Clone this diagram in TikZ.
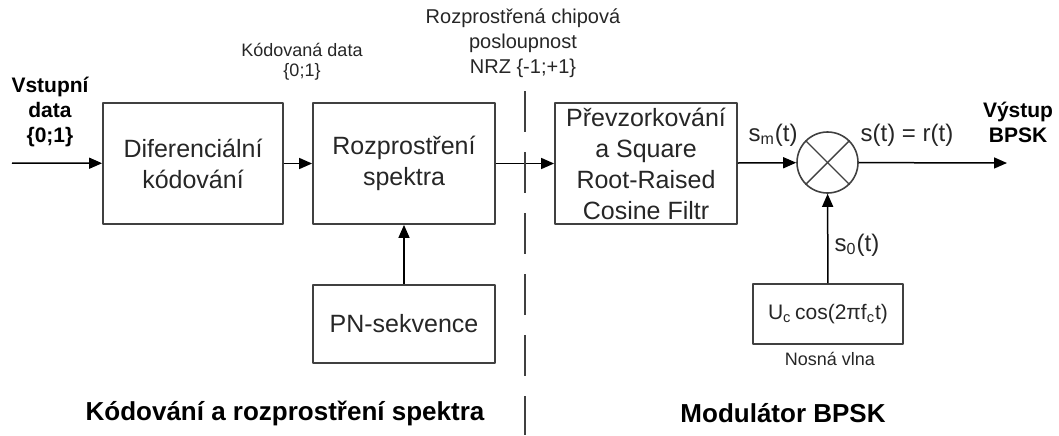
\documentclass[tikz,border=0pt]{standalone}
\usepackage{fontspec}
\setmainfont{Liberation Sans}
\usetikzlibrary{arrows.meta,positioning}

\begin{document}
\begin{tikzpicture}[x=0.5pt, y=-0.5pt, line join=round,
  blok/.style={draw=black!75, line width=0.9pt, align=center, inner sep=0pt,
    text=black!85, font=\fontsize{12.5}{15.5}\selectfont},
  sipka/.style={-{Triangle[length=6.5pt,width=5.5pt]}, line width=0.75pt},
  popis/.style={align=center, inner sep=0pt, text=black!85, font=\fontsize{9}{10}\selectfont},
  signal/.style={inner sep=0pt, text=black!85, font=\fontsize{12}{14}\selectfont},
  tucny/.style={align=center, inner sep=0pt, font=\bfseries\fontsize{10.5}{12.5}\selectfont}]

  \useasboundingbox (0,0) rectangle (1059,435);

  % Blocks
  \node[blok, minimum width=90pt, minimum height=60.5pt] (dif) at (193,163.5) {Diferenciální\\kódování};
  \node[blok, minimum width=91pt, minimum height=60.5pt] (roz) at (404,163.5) {Rozprostření\\spektra};
  \node[blok, minimum width=91pt, minimum height=39pt] (pn) at (404,324) {PN-sekvence};
  \node[blok, minimum width=91pt, minimum height=60.5pt] (flt) at (646,163.5) {Převzorkování\\a Square\\Root-Raised\\Cosine Filtr};
  \node[draw=black!75, circle, line width=0.8pt, minimum size=30.5pt, inner sep=0pt] (mix) at (827.5,162.5) {};
  \node[blok, minimum width=75pt, minimum height=30pt, font=\fontsize{10.5}{12}\selectfont] (nos) at (828,314)
    {U\textsubscript{c}\,cos(2πf\textsubscript{c}t)};

  % Mixer cross
  \draw[black!75, line width=0.7pt] (mix.north west) -- (mix.south east);
  \draw[black!75, line width=0.7pt] (mix.north east) -- (mix.south west);

  % Input and output
  \coordinate (vst) at (12,163);
  \coordinate (vys) at (1007,163);

  % Signal flow
  \draw[sipka] (vst) -- (dif);
  \draw[sipka] (dif) -- (roz);
  \draw[sipka] (pn) -- (roz);
  \draw[sipka] (roz) -- (flt);
  \draw[sipka] (flt) -- (mix);
  \draw[sipka] (nos) -- (mix);
  \draw[sipka] (mix) -- (vys);

  % Divider
  \coordinate (hor) at (525,91);
  \coordinate (dol) at (525,435);
  \draw[black!75, line width=1.1pt, dash pattern=on 20.5pt off 10pt] (hor) -- (dol);

  % Labels
  \node[tucny] (lvst) at (50,112) {Vstupní\\data\\\{0;1\}};
  \node[tucny] (lvys) at (1018,122) {Výstup\\BPSK};
  \node[popis] (lkod) at (302,62) {Kódovaná data\\\{0;1\}};
  \node[popis, font=\fontsize{10}{12.5}\selectfont] (lchip) at (523,43) {Rozprostřená chipová\\posloupnost\\NRZ \{-1;+1\}};
  \node[signal] (lsm) at (773,135) {s\textsubscript{m}(t)};
  \node[signal] (lst) at (907,135) {s(t) = r(t)};
  \node[signal] (ls0) at (857,245) {s\textsubscript{0}(t)};
  \node[popis] (lnos) at (830,359) {Nosná vlna};

  % Captions
  \node[tucny, font=\bfseries\fontsize{13}{15}\selectfont] (kap1) at (285,413) {Kódování a rozprostření spektra};
  \node[tucny, font=\bfseries\fontsize{13}{15}\selectfont] (kap2) at (783,413) {Modulátor BPSK};

\end{tikzpicture}
\end{document}
